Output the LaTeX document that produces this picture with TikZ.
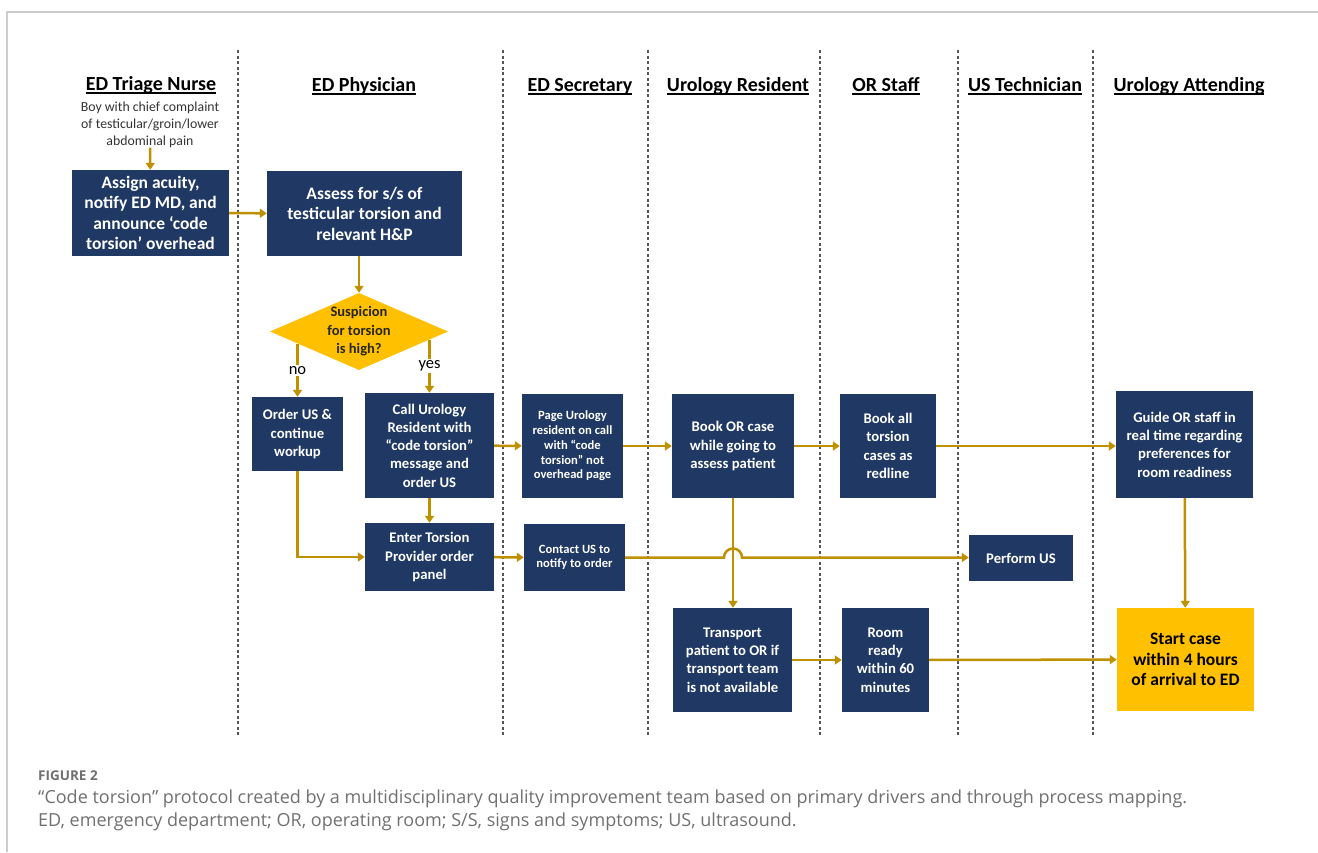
\documentclass[tikz,border=0pt]{standalone}
\usepackage{fontspec}
\setmainfont{Carlito}
\newfontfamily\captionfont{Open Sans}
\usepackage{tikz}
\usetikzlibrary{positioning}
\usetikzlibrary{calc}
\usetikzlibrary{shapes.geometric}
\usetikzlibrary{arrows.meta}

\definecolor{navy}{RGB}{31,56,100}
\definecolor{gold}{RGB}{255,192,0}
\definecolor{flowgold}{RGB}{191,144,0}
\definecolor{lanegray}{RGB}{85,85,85}
\definecolor{framegray}{RGB}{205,205,205}
\definecolor{capgray}{RGB}{112,112,112}

\newcommand{\lanetitle}[1]{\setbox0=\hbox{#1}\leavevmode\rlap{\rule[-3.6pt]{\wd0}{1.7pt}}\box0}
\newcommand{\boxbig}{\bfseries\fontsize{17.5}{20.5}\selectfont}
\newcommand{\boxmid}{\bfseries\fontsize{14.7}{18.3}\selectfont}
\newcommand{\boxsmall}{\bfseries\fontsize{12.6}{14.7}\selectfont}

\begin{document}
\begin{tikzpicture}[
                            x=1pt, y=-1pt,
                            task/.style={fill=navy, text=white, align=center, inner sep=0pt},
                            goal/.style={fill=gold, text=black, align=center, inner sep=0pt},
                            query/.style={diamond, aspect=2.3, fill=gold, text=black!85, align=center, inner sep=0pt,
                                          font=\bfseries\fontsize{14.5}{18.5}\selectfont},
                            lane/.style={anchor=base, font=\bfseries\fontsize{20}{22}\selectfont},
                            intro/.style={align=center, text=black!80, inner sep=0pt, font=\fontsize{13.8}{17}\selectfont},
                            answer/.style={fill=white, inner sep=1.5pt, font=\fontsize{16.5}{17}\selectfont},
                            flow/.style={draw=flowgold, line width=2.5pt, -{Triangle[length=7pt,width=9pt]}},
                            divider/.style={draw=lanegray, line width=1.8pt, dash pattern=on 3pt off 2.5pt},
                            caption/.style={anchor=west, inner sep=0pt, text=capgray}
                            ]
                            \useasboundingbox (0,0) rectangle (1318,852);
                            \draw[framegray, line width=1.5pt] (7,852) -- (7,12) -- (1318,12);
                            \foreach \x in {238,503,648,820,958,1093}
                                \draw[divider] (\x,50) -- (\x,737);

                            \node[lane] (nurse)     at (151,90)   {\lanetitle{ED Triage Nurse}};
                            \node[lane] (physician) at (364,91)   {\lanetitle{ED Physician}};
                            \node[lane] (secretary) at (580,91)   {\lanetitle{ED Secretary}};
                            \node[lane] (resident)  at (738,91)   {\lanetitle{Urology Resident}};
                            \node[lane] (orstaff)   at (886,91)   {\lanetitle{OR Staff}};
                            \node[lane] (ustech)    at (1025,91)  {\lanetitle{US Technician}};
                            \node[lane] (attending) at (1189,91)  {\lanetitle{Urology Attending}};

                            \node[intro] (complaint) at (150,124.5) {Boy with chief complaint\\of testicular/groin/lower\\abdominal pain};

                            \node[task, minimum width=157, minimum height=86, font=\boxbig] (assign)    at (150.5,213)  {Assign acuity,\\notify ED MD, and\\announce ‘code\\torsion’ overhead};
                            \node[task, minimum width=195, minimum height=85, font=\boxbig] (assess)    at (364.5,213.5) {Assess for s/s of\\testicular torsion and\\relevant H\&P};
                            \node[query, minimum width=178, minimum height=77]              (suspect)   at (359,331.5)  {Suspicion\\for torsion\\is high?};
                            \node[task, minimum width=91, minimum height=74, font=\boxmid]  (orderus)   at (297.5,434)  {Order US \&\\continue\\workup};
                            \node[task, minimum width=129, minimum height=105, font=\boxmid] (callres)  at (429.5,445.5) {Call Urology\\Resident with\\“code torsion”\\message and\\order US};
                            \node[task, minimum width=129, minimum height=68, font=\boxmid] (enterpanel) at (429.5,557)  {Enter Torsion\\Provider order\\panel};
                            \node[task, minimum width=101, minimum height=104, font=\boxsmall] (pageres) at (572.5,446)  {Page Urology\\resident on call\\with “code\\torsion” not\\overhead page};
                            \node[task, minimum width=101, minimum height=67, font=\boxsmall] (contactus) at (574.5,557.5) {Contact US to\\notify to order};
                            \node[task, minimum width=122, minimum height=104, font=\boxmid] (bookor)   at (733,446)    {Book OR case\\while going to\\assess patient};
                            \node[task, minimum width=96, minimum height=104, font=\boxmid] (bookall)   at (888,446)    {Book all\\torsion\\cases as\\redline};
                            \node[task, minimum width=137, minimum height=107, font=\boxmid] (guide)    at (1184.5,444.5) {Guide OR staff in\\real time regarding\\preferences for\\room readiness};
                            \node[task, minimum width=104, minimum height=46, font=\boxmid] (performus) at (1021,558)    {Perform US};
                            \node[task, minimum width=119, minimum height=104, font=\boxmid] (transport) at (732.5,660)  {Transport\\patient to OR if\\transport team\\is not available};
                            \node[task, minimum width=87, minimum height=104, font=\boxmid] (roomready) at (885.5,660)   {Room\\ready\\within 60\\minutes};
                            \node[goal, minimum width=137, minimum height=103, font=\boxbig] (startcase) at (1185.5,659.5) {Start case\\within 4 hours\\of arrival to ED};

                            \coordinate (noout)  at ($(suspect.west)!0.31!(suspect.south)$);
                            \coordinate (yesout) at ($(suspect.east)!0.21!(suspect.south)$);

                            \draw[flow] (complaint) -- (assign);
                            \draw[flow] (assign) -- (assess);
                            \draw[flow] (assess.south -| suspect.north) -- (suspect.north);
                            \draw[flow] (orderus.north |- noout) -- node[answer]{no} (orderus.north);
                            \draw[flow] (callres.north |- yesout) -- node[answer]{yes} (callres.north);
                            \draw[flow] (callres) -- (enterpanel);
                            \draw[flow] (orderus) |- (enterpanel);
                            \draw[flow] (callres) -- (pageres);
                            \draw[flow] (enterpanel) -- (contactus);
                            \draw[flow] (pageres) -- (bookor);
                            \draw[flow] (bookor) -- (bookall);
                            \draw[flow] (bookall) -- (bookall -| guide.west);
                            \draw[flow] (guide) -- (startcase);
                            \draw[flow] (bookor.south) -- (bookor.south |- transport.north);
                            \draw[flow] (contactus.east) -- ($(bookor.south |- contactus.east)+(-9,0)$)
                                        arc[start angle=180, end angle=360, radius=9] -- (performus.west |- contactus.east);
                            \draw[flow] (transport) -- (roomready);
                            \draw[flow] (roomready) -- (startcase);

                            \node[caption, font=\captionfont\bfseries\fontsize{13.5}{15}\selectfont] (figno) at (38,776) {FIGURE 2};
                            \node[caption, font=\captionfont\fontsize{18}{22}\selectfont] (capone) at (38,799) {“Code torsion” protocol created by a multidisciplinary quality improvement team based on primary drivers and through process mapping.};
                            \node[caption, font=\captionfont\fontsize{18}{22}\selectfont] (captwo) at (38,822) {ED, emergency department; OR, operating room; S/S, signs and symptoms; US, ultrasound.};
                        \end{tikzpicture}
\end{document}
